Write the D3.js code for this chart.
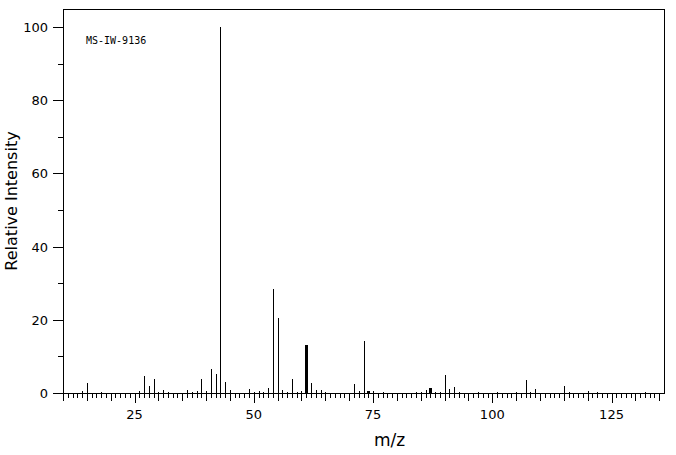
<!DOCTYPE html>
<html><head><meta charset="utf-8">
<script src="https://cdn.jsdelivr.net/npm/d3@7"></script>
<style>body{margin:0;background:#fff}svg{display:block}</style>
</head><body><svg id="c" width="676" height="455"></svg>
<script>
const mz =        [14,15,18,26,27,28,29,30,31,32,36,37,38,39,40,41,42,43,44,45,49,50,51,52,53,54,55,56,57,58,59,60,61,62,63,64,65,71,72,73,74,75,77,84,85,86,87,88,89,90,91,92,93,97,101,105,107,108,109,115,116,120,122,132];
const intensity = [0.6,2.7,0.4,0.6,4.7,2.0,3.9,0.4,0.9,0.4,0.9,0.4,0.6,3.9,0.6,6.6,5.3,100,3.1,0.9,1.2,0.4,0.6,0.4,1.5,28.5,20.6,0.9,0.4,3.9,0.4,0.6,13.2,2.8,0.9,0.9,0.4,2.5,0.6,14.3,0.6,0.6,0.4,0.4,0.4,0.9,1.5,0.4,0.4,5.0,1.2,1.7,0.4,0.4,0.4,0.4,3.6,0.4,1.2,2.0,0.4,0.6,0.4,0.4];
const widePeaks = [61,74,87];
const xTickLabels = [25,50,75,100,125];
const yTickLabels = [0,20,40,60,80,100];
const title = "MS-IW-9136";

const svg = d3.select("#c");
const L=63, R=664, T=9, B=393;
const x = d3.scaleLinear().domain([10,136]).range([L,R]);
const y = d3.scaleLinear().domain([0,100]).range([B,27]);
const font = "'DejaVu Sans', sans-serif";

// frame
svg.append("rect").attr("x",L+0.5).attr("y",T+0.5).attr("width",R-L).attr("height",B-T)
  .attr("fill","none").attr("stroke","#000").attr("stroke-width",1);

// x ticks
const g = svg.append("g").attr("stroke","#000").attr("stroke-width",1).attr("shape-rendering","crispEdges");
d3.range(10,136).forEach(v=>{
  const len = v%25===0 ? 10 : (v%5===0 ? 8 : 5);
  g.append("line").attr("x1",Math.round(x(v))+0.5).attr("x2",Math.round(x(v))+0.5)
    .attr("y1",B).attr("y2",B+len);
});
xTickLabels.forEach(v=>{
  svg.append("text").attr("x",x(v)).attr("y",B+26).attr("text-anchor","middle")
    .attr("font-family",font).attr("font-size",13).text(v);
});
// y ticks
d3.range(0,101,10).forEach(v=>{
  const len = v%20===0 ? 10 : 5;
  g.append("line").attr("x1",L-len).attr("x2",L).attr("y1",Math.round(y(v))+0.5).attr("y2",Math.round(y(v))+0.5);
});
yTickLabels.forEach(v=>{
  svg.append("text").attr("x",L-15).attr("y",y(v)+5).attr("text-anchor","end")
    .attr("font-family",font).attr("font-size",13).text(v);
});

// bars
svg.append("g").selectAll("line").data(mz.map((m,i)=>({m,v:intensity[i]}))).join("line")
  .attr("x1",d=>Math.round(x(d.m))+0.5).attr("x2",d=>Math.round(x(d.m))+0.5)
  .attr("y1",B).attr("y2",d=>y(d.v))
  .attr("stroke","#000").attr("stroke-width",d=>widePeaks.includes(d.m)?2.5:1)
  .attr("shape-rendering","crispEdges");

// labels
svg.append("text").attr("x",86).attr("y",44).attr("font-family","'DejaVu Sans Mono', monospace")
  .attr("font-size",10).text(title);
svg.append("text").attr("x",(L+R)/2+26).attr("y",446).attr("text-anchor","middle")
  .attr("font-family",font).attr("font-size",17).text("m/z");
svg.append("text").attr("transform","translate(17,201) rotate(-90)").attr("text-anchor","middle")
  .attr("font-family",font).attr("font-size",16).text("Relative Intensity");
</script></body></html>
